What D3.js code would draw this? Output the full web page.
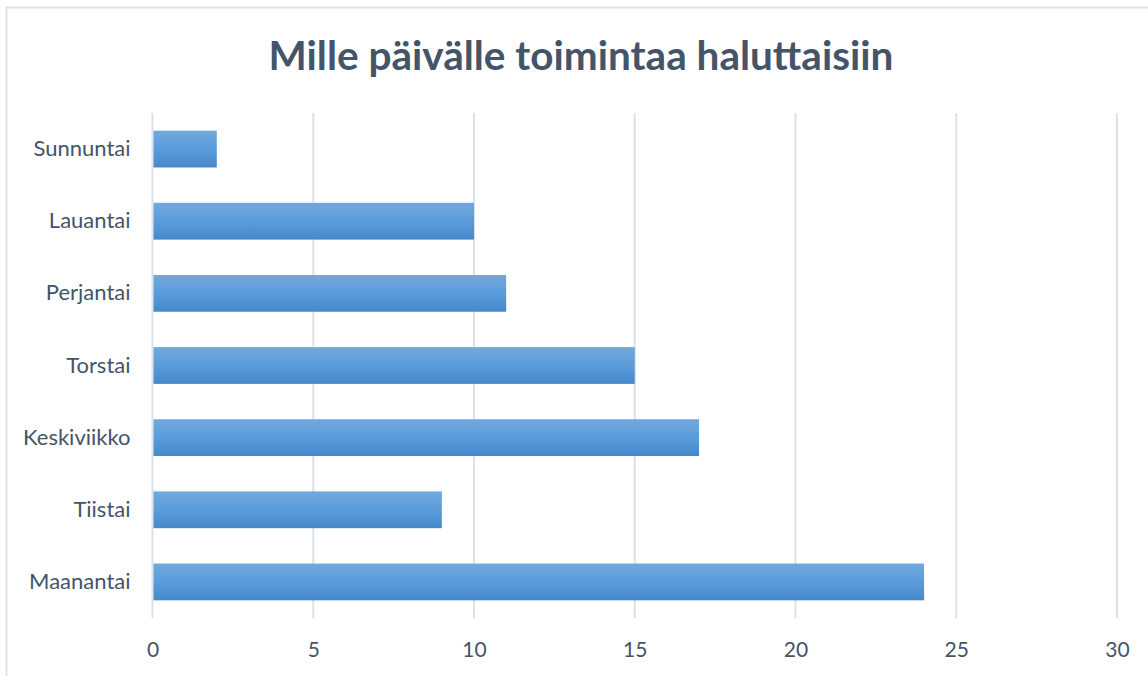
<!DOCTYPE html>
<html>
<head>
<meta charset="utf-8">
<script src="https://cdn.jsdelivr.net/npm/d3@7"></script>
<style>
  body { margin: 0; background: #fff; }
  text { font-family: Lato, "Open Sans", sans-serif; fill: #44546a; }
</style>
</head>
<body>
<svg id="chart" width="1148" height="676"></svg>
<script>
var title = "Mille päivälle toimintaa haluttaisiin";
var days = ["Maanantai", "Tiistai", "Keskiviikko", "Torstai", "Perjantai", "Lauantai", "Sunnuntai"];
var counts = [24, 9, 17, 15, 11, 10, 2];
var xTicks = [0, 5, 10, 15, 20, 25, 30];

var svg = d3.select("#chart");

// chart border (only top/left visible in the crop)
svg.append("rect")
    .attr("x", 6.5).attr("y", 7.5)
    .attr("width", 1160).attr("height", 690)
    .attr("fill", "none")
    .attr("stroke", "#dde3ea")
    .attr("stroke-width", 2);

var grad = svg.append("defs").append("linearGradient")
    .attr("id", "barGrad")
    .attr("x1", 0).attr("y1", 0).attr("x2", 0).attr("y2", 1);
grad.append("stop").attr("offset", "0%").attr("stop-color", "#72a8de");
grad.append("stop").attr("offset", "50%").attr("stop-color", "#5b9cdb");
grad.append("stop").attr("offset", "100%").attr("stop-color", "#4688ca");

var plotLeft = 152.5, plotRight = 1117, plotTop = 113, plotBottom = 618;

var x = d3.scaleLinear().domain([0, 30]).range([plotLeft, plotRight]);
var y = d3.scaleBand().domain(days).range([plotBottom, plotTop]).paddingInner(0.49).paddingOuter(0.245);

// gridlines
svg.append("g")
    .selectAll("line")
    .data(xTicks)
    .join("line")
    .attr("x1", d => x(d)).attr("x2", d => x(d))
    .attr("y1", plotTop).attr("y2", plotBottom)
    .attr("stroke", "#dde2ea")
    .attr("stroke-width", 2);

// bars
svg.append("g")
    .selectAll("rect")
    .data(counts)
    .join("rect")
    .attr("x", x(0) + 1)
    .attr("y", (d, i) => y(days[i]))
    .attr("width", d => x(d) - x(0) - 1)
    .attr("height", y.bandwidth())
    .attr("fill", "url(#barGrad)");

// x tick labels
var xAxis = svg.append("g")
    .attr("transform", "translate(0," + plotBottom + ")")
    .call(d3.axisBottom(x).tickValues(xTicks).tickSize(0).tickPadding(24));
xAxis.select(".domain").remove();
xAxis.selectAll("text")
    .attr("font-size", 21)
    .attr("font-family", "Lato, 'Open Sans', sans-serif")
    .style("fill", "#44546a");

// category labels
var yAxis = svg.append("g")
    .attr("transform", "translate(" + plotLeft + ",0)")
    .call(d3.axisLeft(y).tickSize(0).tickPadding(22));
yAxis.select(".domain").remove();
yAxis.selectAll("text")
    .attr("font-size", 22)
    .attr("font-family", "Lato, 'Open Sans', sans-serif")
    .style("fill", "#44546a");

// title
svg.append("text")
    .attr("x", 581).attr("y", 70)
    .attr("text-anchor", "middle")
    .attr("font-size", 40.5)
    .attr("font-weight", "bold")
    .text(title);
</script>
</body>
</html>
